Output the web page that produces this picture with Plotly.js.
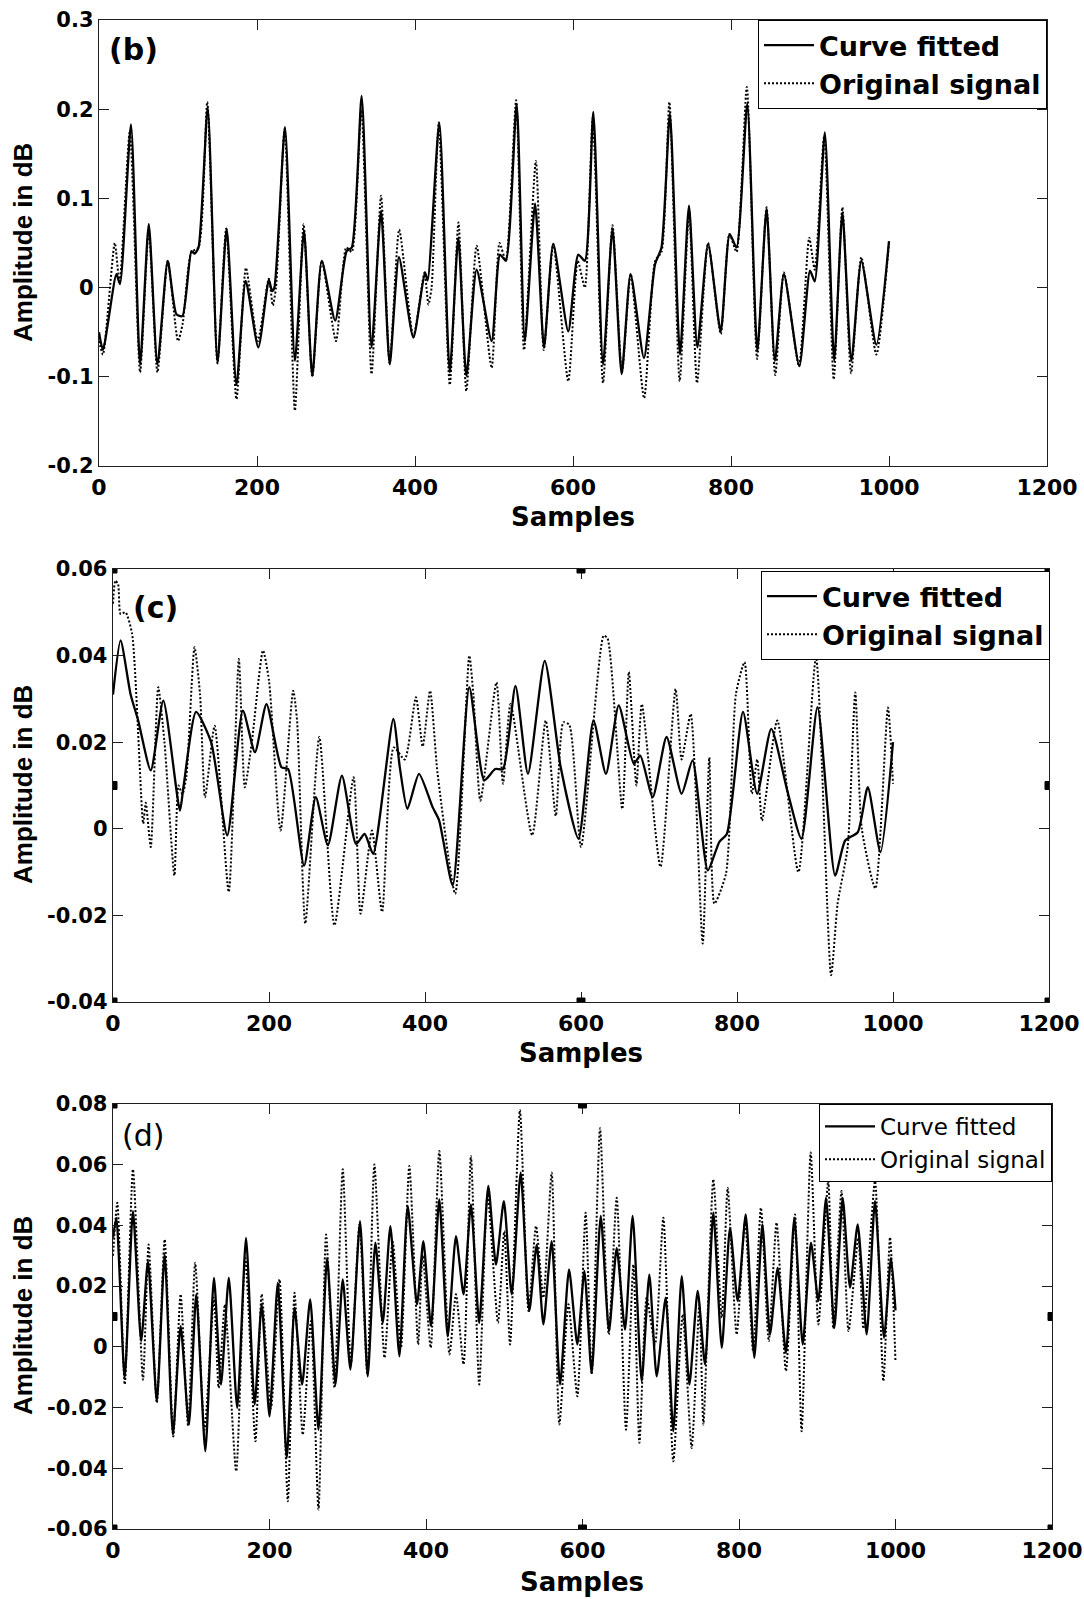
<!DOCTYPE html>
<html>
<head>
<meta charset="utf-8">
<script src="https://cdn.plot.ly/plotly-3.0.1.min.js"></script>
<style>
html,body{margin:0;padding:0;background:#fff;}
#chart{width:1084px;height:1599px;}
</style>
</head>
<body>
<div id="chart"></div>
<script>
// ---------- DATA (turning points: [sample, amplitude]) ----------
const seriesNames = ['Curve fitted', 'Original signal'];

const xTickVals = [0, 200, 400, 600, 800, 1000, 1200];
const xTickText = ['0', '200', '400', '600', '800', '1000', '1200'];

const bTickVals = [-0.2, -0.1, 0, 0.1, 0.2, 0.3];
const bTickText = ['-0.2', '-0.1', '0', '0.1', '0.2', '0.3'];
const cTickVals = [-0.04, -0.02, 0, 0.02, 0.04, 0.06];
const cTickText = ['-0.04', '-0.02', '0', '0.02', '0.04', '0.06'];
const dTickVals = [-0.06, -0.04, -0.02, 0, 0.02, 0.04, 0.06, 0.08];
const dTickText = ['-0.06', '-0.04', '-0.02', '0', '0.02', '0.04', '0.06', '0.08'];

const panelLabels = ['(b)', '(c)', '(d)'];

// Panel (b)
const bFitted = [[0,-0.05],[5,-0.07],[22,0.015],[26.6,0.004],[40.5,0.183],[52,-0.086],[63,0.071],[74,-0.086],[87,0.03],[98,-0.03],[105.5,-0.032],[117,0.041],[121,0.038],[126,0.045],[137.6,0.202],[150,-0.084],[161.6,0.066],[174,-0.109],[185.7,0.0075],[201.7,-0.067],[215,0.009],[219,-0.004],[222,0.0],[235.4,0.18],[248,-0.082],[259.5,0.064],[270,-0.099],[282,0.03],[299,-0.037],[313.5,0.041],[320,0.045],[332.5,0.215],[345,-0.067],[357,0.086],[368,-0.086],[379.7,0.034],[397.9,-0.056],[412.6,0.017],[416,0.008],[430.8,0.185],[444,-0.095],[454.8,0.056],[465,-0.099],[478,0.02],[497,-0.06],[507.6,0.037],[515,0.03],[528.7,0.206],[539,-0.06],[552,0.094],[563.3,-0.067],[575,0.049],[594,-0.049],[606.7,0.037],[615,0.03],[625.7,0.197],[638,-0.086],[650,0.066],[661.6,-0.097],[672.9,0.015],[689.8,-0.079],[703.8,0.026],[712,0.045],[722.7,0.195],[735.4,-0.075],[746.8,0.092],[757.4,-0.067],[771,0.049],[787,-0.049],[798.3,0.06],[807,0.045],[820.6,0.206],[833.3,-0.071],[845,0.088],[855.6,-0.082],[867,0.015],[886.5,-0.088],[900,0.019],[906,0.007],[918.8,0.174],[930.6,-0.082],[941,0.084],[952.4,-0.082],[965,0.03],[984,-0.064],[1000,0.052]];
const bOriginal = [[0,-0.06],[5,-0.075],[20,0.05],[26,0.005],[39,0.175],[52,-0.095],[63,0.065],[74,-0.095],[87,0.03],[100,-0.06],[106,-0.04],[117,0.04],[126,0.045],[137,0.208],[150,-0.085],[161,0.066],[174,-0.125],[186,0.022],[201,-0.06],[215,0.01],[220,-0.02],[224,0.0],[235,0.178],[248,-0.138],[259,0.071],[270,-0.1],[282,0.03],[300,-0.06],[313,0.045],[320,0.04],[332,0.2],[345,-0.097],[357,0.103],[368,-0.085],[380,0.065],[398,-0.055],[412,0.017],[417,-0.019],[421,0.0],[430,0.185],[444,-0.109],[455,0.073],[465,-0.116],[478,0.047],[497,-0.09],[507,0.05],[515,0.03],[528,0.21],[538,-0.07],[553,0.142],[563,-0.07],[575,0.049],[594,-0.105],[606,0.03],[615,0.0],[625,0.19],[638,-0.107],[650,0.07],[662,-0.095],[673,0.015],[690,-0.124],[704,0.03],[712,0.04],[722,0.208],[735,-0.105],[747,0.085],[757,-0.107],[771,0.05],[787,-0.052],[798,0.06],[807,0.04],[820,0.225],[833,-0.08],[845,0.09],[856,-0.098],[867,0.017],[886,-0.088],[899,0.056],[906,0.02],[918,0.17],[930,-0.103],[941,0.09],[952,-0.096],[965,0.034],[984,-0.075],[1000,0.05]];

// Panel (c)
const cFitted = [[0,0.031],[9.7,0.0435],[22.6,0.031],[32.3,0.025],[48.4,0.0135],[64.5,0.0296],[85.8,0.0042],[90.3,0.0096],[106.5,0.027],[125.8,0.02],[146.5,-0.0015],[166.5,0.0273],[182,0.0177],[196.8,0.0288],[216,0.0142],[224.5,0.0138],[245,-0.0085],[260,0.0073],[275.5,-0.0038],[293.5,0.0123],[311.6,-0.0035],[322.6,-0.0012],[333.5,-0.0058],[359.4,0.0254],[367.7,0.0142],[377.4,0.0046],[392.3,0.0127],[409.7,0.005],[418,0.002],[435.5,-0.0131],[456.8,0.0327],[476,0.0112],[490,0.0138],[500,0.0138],[516,0.033],[532,0.0127],[553.5,0.0388],[574,0.0142],[596.8,-0.0023],[616,0.025],[632,0.0127],[648.4,0.0285],[667.7,0.015],[676,0.0169],[692,0.0073],[709.7,0.0212],[729,0.0081],[743,0.0158],[762.6,-0.0096],[777.4,-0.003],[787,-0.0012],[807.7,0.027],[825.8,0.0081],[843.9,0.0231],[864.5,0.0088],[882.6,-0.0023],[903.2,0.0281],[925.8,-0.0108],[938.7,-0.0027],[954.8,-0.0008],[967.7,0.0096],[983.9,-0.0054],[1000,0.02]];
const cOriginal = [[0,0.052],[3,0.0573],[6.5,0.0565],[9.7,0.0496],[16,0.05],[24.5,0.045],[38.7,0.0012],[42,0.006],[48.4,-0.0042],[58,0.0327],[66,0.02],[78.7,-0.0108],[84,0.01],[89,0.008],[94,0.012],[104.5,0.0419],[111.6,0.031],[118,0.0073],[130.3,0.0238],[148.4,-0.0146],[161.3,0.0392],[169,0.0096],[178,0.02],[192.3,0.0412],[200,0.0342],[214.8,-0.0004],[231,0.0319],[236,0.025],[246.5,-0.0219],[264.5,0.0212],[283.9,-0.0223],[308.4,0.0119],[317.4,-0.0196],[332,-0.0004],[345,-0.0192],[360,0.0188],[374,0.016],[388.4,0.0304],[397,0.019],[406.5,0.0319],[416,0.013],[438.7,-0.015],[456.8,0.04],[462,0.031],[471,0.0065],[491.6,0.0338],[500,0.0104],[509.7,0.0288],[537.4,-0.0015],[554.8,0.025],[567.7,0.003],[577.4,0.0246],[585,0.024],[600,-0.0042],[629,0.0446],[634,0.044],[652.9,0.0046],[661.3,0.0362],[671,0.01],[678,0.0288],[701.9,-0.0088],[721.3,0.0323],[729,0.016],[740.6,0.0265],[756,-0.0265],[764.5,0.0165],[771,-0.0173],[785.8,-0.0104],[798.7,0.0312],[809.7,0.0385],[819,0.0081],[826,0.016],[832,0.0019],[851.6,0.025],[878.7,-0.01],[901.3,0.0396],[920.6,-0.0338],[929,-0.0173],[941.9,-0.0042],[951.6,0.0315],[960,0.0],[977.4,-0.0138],[993.5,0.028],[1000,0.0104]];

// Panel (d)
const dFitted = [[0,0.036],[4.3,0.0425],[14.9,-0.0102],[25.5,0.0447],[36,0.0019],[44.7,0.0282],[56,-0.0179],[66,0.0304],[76.6,-0.0289],[86.4,0.0068],[97,-0.0256],[106.4,0.0173],[118,-0.0344],[129,0.0227],[138,-0.0124],[148,0.0227],[158.7,-0.0201],[170,0.0359],[181,-0.019],[190,0.014],[200,-0.0229],[210.6,0.0211],[222,-0.0366],[232,0.0129],[241.7,-0.0124],[252,0.0156],[262.6,-0.0273],[273.6,0.0293],[284.3,-0.0124],[293.6,0.0222],[303.4,-0.0075],[315.7,0.0414],[325.5,-0.0097],[335.3,0.0343],[344.7,0.0079],[354.5,0.0398],[366,-0.0031],[376.6,0.0464],[388.5,0.014],[396.6,0.0348],[406.4,0.0068],[417,0.0486],[427.7,0.0035],[438.3,0.0365],[448,0.0173],[457.4,0.0469],[468,0.0079],[479.6,0.053],[489.4,0.0271],[499.5,0.048],[509.5,0.0173],[521,0.0574],[532,0.0118],[541.5,0.0337],[550,0.0074],[560.6,0.0348],[571.3,-0.0124],[582.8,0.0255],[593.4,0.0008],[602.4,0.025],[611.7,-0.0086],[623.3,0.0431],[633.9,0.0052],[643.7,0.0326],[654.3,0.0057],[664.1,0.0431],[675.6,-0.0113],[685.4,0.0238],[694.8,-0.0097],[706.3,0.0162],[716,-0.0278],[726.8,0.0233],[736.6,-0.0124],[747.2,0.0184],[756.6,-0.0058],[767.2,0.0442],[778,-0.0003],[788.5,0.0392],[798.3,0.0151],[808.6,0.0436],[819.6,-0.0036],[829.9,0.0403],[839.6,0.0041],[849.4,0.026],[860,-0.002],[870.7,0.0425],[881.4,0.0008],[892,0.0343],[901.4,0.0151],[911.2,0.0491],[921.9,0.0063],[932.5,0.0491],[941.9,0.0195],[951.7,0.0403],[963.2,0.0041],[973.8,0.048],[985.3,0.003],[994.3,0.0293],[1000,0.012]];
const dOriginal = [[0,0.03],[5.5,0.0475],[15,-0.0124],[25.5,0.0585],[38.3,-0.0108],[45.5,0.0337],[56,-0.0185],[66,0.0354],[77,-0.0295],[86.4,0.0173],[96,-0.026],[105,0.0277],[117,-0.0273],[129,0.0162],[135,-0.0135],[143,0.014],[157.4,-0.041],[169,0.0293],[182,-0.0311],[190,0.0173],[202,-0.0201],[212.8,0.0222],[223.4,-0.0509],[232,0.0178],[242.5,-0.0289],[253,0.0085],[262.6,-0.0536],[272.3,0.037],[283,-0.0135],[293.6,0.0585],[304,-0.0058],[315,0.0403],[325,-0.0091],[334,0.0601],[347,-0.0036],[357.4,0.0348],[368,-0.0003],[378.7,0.0596],[390,0.0008],[395.7,0.0304],[406,-0.0003],[417,0.0645],[430,-0.0025],[438.3,0.0173],[448,-0.0058],[457.4,0.0629],[468,-0.0124],[478.7,0.0502],[492,0.0079],[500,0.0381],[507.4,0.0008],[520,0.078],[531,0.0118],[540.6,0.0398],[550,0.0162],[560.6,0.0574],[570.4,-0.0256],[582,0.014],[593.4,-0.0163],[604,0.0442],[611.7,-0.0091],[622.4,0.072],[633.5,0.0041],[643.7,0.0491],[655.6,-0.0273],[665,0.0271],[672.7,-0.0316],[682,0.0162],[692.7,0.0008],[703.3,0.0425],[716,-0.0377],[728,0.0107],[739.5,-0.0333],[749.4,0.014],[754.5,-0.0256],[767.2,0.0552],[778,0.0096],[785.5,0.0524],[797,0.0041],[807.7,0.0414],[818,-0.0014],[828,0.0458],[838,0.0019],[848,0.0409],[860,-0.008],[871.6,0.0436],[880,-0.0278],[891.6,0.064],[901.4,0.0074],[914,0.0546],[920.5,0.006],[931,0.0513],[940,0.0052],[952.5,0.036],[959,0.006],[973.8,0.0546],[984.5,-0.0113],[993,0.036],[1000,-0.005]];

// ---------- STYLE ----------
const WIDE = 'DejaVu Sans, Verdana, sans-serif';
const NARROW = 'Liberation Sans, Arial, Helvetica, sans-serif';
const AXC = '#1e1e1e';

function fitTrace(pts, xa, ya, lg) {
  return {x: pts.map(p => p[0]), y: pts.map(p => p[1]), xaxis: xa, yaxis: ya,
    type: 'scatter', mode: 'lines', name: seriesNames[0], legend: lg, legendrank: 1,
    line: {color: '#000', width: 2.3, shape: 'spline', smoothing: 0.6}, hoverinfo: 'skip'};
}
function origTrace(pts, xa, ya, lg) {
  return {x: pts.map(p => p[0]), y: pts.map(p => p[1]), xaxis: xa, yaxis: ya,
    type: 'scatter', mode: 'lines', name: seriesNames[1], legend: lg, legendrank: 2,
    line: {color: '#000', width: 2, dash: '2px,2px', shape: 'spline', smoothing: 0.6}, hoverinfo: 'skip'};
}

const data = [
  origTrace(bOriginal, 'x', 'y', 'legend'),
  fitTrace(bFitted, 'x', 'y', 'legend'),
  origTrace(cOriginal, 'x2', 'y2', 'legend2'),
  fitTrace(cFitted, 'x2', 'y2', 'legend2'),
  origTrace(dOriginal, 'x3', 'y3', 'legend3'),
  fitTrace(dFitted, 'x3', 'y3', 'legend3')
];

function xAxis(domain, anchor) {
  return {domain: domain, anchor: anchor, range: [0, 1200], tickvals: xTickVals, ticktext: xTickText,
    ticks: 'inside', ticklen: 10, tickwidth: 1, tickcolor: AXC, mirror: 'ticks', showline: true,
    linecolor: AXC, linewidth: 1.3, showgrid: false, zeroline: false, fixedrange: true,
    tickfont: {family: WIDE, size: 22, color: '#000', weight: 'bold'}, ticklabelstandoff: 1};
}
function yAxis(domain, anchor, range, tv, tt) {
  return {domain: domain, anchor: anchor, range: range, tickvals: tv, ticktext: tt,
    ticks: 'inside', ticklen: 10, tickwidth: 1, tickcolor: AXC, mirror: 'ticks', showline: true,
    linecolor: AXC, linewidth: 1.3, showgrid: false, zeroline: false, fixedrange: true,
    tickfont: {family: WIDE, size: 21, color: '#000', weight: 'bold'}, ticklabelstandoff: 0};
}

const W = 1084, H = 1599;
const px = v => v / W;
const py = v => 1 - v / H;

const legendBase = {bgcolor: '#fff', bordercolor: '#000', borderwidth: 1, xanchor: 'right', yanchor: 'top',
  itemwidth: 50, tracegroupgap: 0, traceorder: 'normal'};

const layout = {
  width: W, height: H, paper_bgcolor: '#fff', plot_bgcolor: '#fff',
  margin: {l: 0, r: 0, t: 0, b: 0}, showlegend: true,
  xaxis: xAxis([px(99), px(1047)], 'y'),
  yaxis: yAxis([py(466), py(20)], 'x', [-0.2, 0.3], bTickVals, bTickText),
  xaxis2: xAxis([px(113), px(1049)], 'y2'),
  yaxis2: yAxis([py(1002), py(569)], 'x2', [-0.04, 0.06], cTickVals, cTickText),
  xaxis3: xAxis([px(113), px(1052)], 'y3'),
  yaxis3: yAxis([py(1529), py(1104)], 'x3', [-0.06, 0.08], dTickVals, dTickText),
  legend: Object.assign({}, legendBase, {x: px(1047), y: py(20),
    font: {family: WIDE, size: 27, color: '#000', weight: 'bold'}}),
  legend2: Object.assign({}, legendBase, {x: px(1050), y: py(571),
    font: {family: WIDE, size: 27, color: '#000', weight: 'bold'}}),
  legend3: Object.assign({}, legendBase, {x: px(1052), y: py(1104),
    font: {family: WIDE, size: 23, color: '#000'}}),
  annotations: [],
  shapes: []
};

// axis titles & panel labels
[[243, 517, 573], [785, 1053, 581], [1316, 1582, 582]].forEach((r) => {
  layout.annotations.push({xref: 'paper', yref: 'paper', x: px(23), y: py(r[0]), text: 'Amplitude in dB',
    textangle: -90, showarrow: false, xanchor: 'center', yanchor: 'middle',
    font: {family: NARROW, size: 26, color: '#000', weight: 'bold'}});
  layout.annotations.push({xref: 'paper', yref: 'paper', x: px(r[2]), y: py(r[1]), text: 'Samples',
    showarrow: false, xanchor: 'center', yanchor: 'middle',
    font: {family: WIDE, size: 26, color: '#000', weight: 'bold'}});
});
[[107, 49, 'bold'], [131, 607, 'bold'], [120, 1135, 'normal']].forEach((r, i) => {
  layout.annotations.push({xref: 'paper', yref: 'paper', x: px(r[0]), y: py(r[1]), text: panelLabels[i],
    showarrow: false, xanchor: 'left', yanchor: 'middle',
    font: {family: WIDE, size: 30, color: '#000', weight: r[2]}});
});

// selection handles on panels (c) and (d)
function handles(xr, yr, ylist) {
  [0, 600, 1200].forEach(xv => {
    ylist.forEach((yv, j) => {
      if (xv === 600 && j === 1) return;
      layout.shapes.push({type: 'rect', xref: xr, yref: yr, xsizemode: 'pixel', ysizemode: 'pixel',
        xanchor: xv, yanchor: yv, x0: -4, x1: 4, y0: -4, y1: 4,
        fillcolor: '#000', line: {color: '#000', width: 1}});
    });
  });
}
handles('x2', 'y2', [0.06, 0.01, -0.04]);
handles('x3', 'y3', [0.08, 0.01, -0.06]);

Plotly.newPlot('chart', data, layout, {staticPlot: true, displayModeBar: false});
</script>
</body>
</html>
